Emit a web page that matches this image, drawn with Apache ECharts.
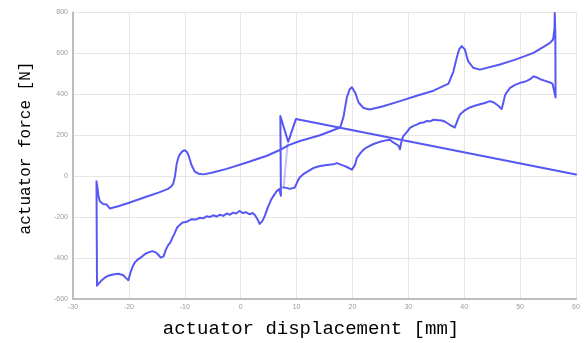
<!DOCTYPE html>
<html>
<head>
<meta charset="utf-8">
<script src="https://cdn.jsdelivr.net/npm/echarts@6/dist/echarts.min.js"></script>
<style>
  html, body { margin: 0; padding: 0; background: #fff; }
  #chart { width: 586px; height: 343px; }
</style>
</head>
<body>
<div id="chart"></div>
<script>
// Axis tick values
const xTicks = [-30, -20, -10, 0, 10, 20, 30, 40, 50, 60];
const yTicks = [-600, -400, -200, 0, 200, 400, 600, 800];

// Start of the record: return line and the zigzag near 7-10 mm
const startDisp  = [60, 9.9, 8.5, 7.1, 7.2];
const startForce = [8, 280, 168, 294, -96];

// Quick faint drop from the zigzag down onto the lower branch
const dropDisp  = [8.4, 7.7];
const dropForce = [160, -52];

// Lower branch, moving left from ~7 mm to the left end
const lowerLeftDisp = [6.9, 6.4, 5.5, 4.9, 4.3, 3.9, 3.4, 3.0, 2.6, 2.2, 1.6, 1.0, 0.4, -0.2, -0.8, -1.4,
  -1.9, -2.5, -3.1, -3.7, -4.3, -4.9, -5.5, -6.1, -6.7, -7.3, -8.0, -8.8, -9.6, -10.4, -10.9, -11.4,
  -11.8, -12.2, -12.6, -13.0, -13.4, -13.8, -14.3, -14.7, -15.2, -15.8, -16.5, -17.1, -17.7, -18.3,
  -18.9, -19.3, -19.7, -20.1, -20.5, -21.0, -21.9, -22.8, -23.7, -24.3, -24.9, -25.4, -25.7];
const lowerLeftForce = [-62, -75, -112, -150, -195, -218, -233, -210, -192, -180, -186, -176, -180, -170, -182, -178,
  -188, -182, -194, -188, -197, -191, -199, -196, -206, -203, -212, -210, -222, -226, -238, -252,
  -278, -300, -325, -338, -360, -392, -398, -385, -372, -366, -372, -380, -394, -405,
  -420, -440, -470, -508, -498, -484, -477, -480, -486, -496, -510, -524, -535];

// Upper branch, moving right from the left end up to the right-end spike
const upperDisp = [-25.8, -25.6, -25.45, -25.2, -24.6, -24.0, -23.4, -22.6, -21.9, -20.1, -18.3, -16.5, -14.7,
  -13.0, -12.4, -12.05, -11.75, -11.45, -11.1, -10.8, -10.4, -10.0, -9.6, -9.3, -8.8, -8.2, -7.5, -6.6,
  -5.0, -2.5, 1.1, 4.7, 7.0, 8.6, 10.6, 14.2, 17.8, 18.4, 19.0, 19.5, 19.9, 20.5, 21.1, 22.0, 23.1, 25.5,
  28.5, 31.5, 34.5, 37.2, 37.6, 38.05, 38.65, 39.1, 39.55, 40.1, 40.7, 41.6, 42.8, 46.4, 49.4, 52.4, 55.3,
  55.9, 56.15, 56.2, 56.3, 56.35];
const upperForce = [-25, -60, -95, -122, -136, -138, -158, -152, -147, -131, -114, -97, -80,
  -62, -50, -35, 0, 60, 95, 110, 122, 127, 118, 100, 55, 22, 12, 9,
  18, 36, 67, 100, 128, 152, 172, 200, 238, 290, 385, 425, 435, 408, 360, 333, 326, 342,
  367, 393, 418, 452, 480, 510, 578, 620, 636, 620, 562, 530, 521, 546, 572, 603, 650,
  668, 720, 798, 700, 385];

// Lower branch, moving left from the right end back to ~7.6 mm
const lowerRightDisp = [55.8, 55.35, 54.5, 53.6, 52.9, 52.4, 51.8, 51.2, 50.6, 50.0, 49.1, 48.2, 47.6, 47.3,
  47.0, 46.7, 46.4, 46.1, 45.3, 44.6, 43.7, 42.8, 41.9, 41.0, 40.1, 39.25, 38.9, 38.65, 38.3, 38.05, 37.6,
  37.2, 36.6, 36.0, 35.4, 34.5, 33.9, 33.3, 32.7, 32.1, 31.5, 30.9, 30.3, 29.7, 29.1, 28.8, 28.5, 28.2,
  27.9, 27.3, 26.7, 25.8, 24.9, 24.0, 23.2, 22.5, 22.0, 21.4, 21.1, 20.8, 20.5, 19.9, 19.6, 19.0, 18.4,
  17.2, 16.6, 15.4, 14.2, 13.0, 12.4, 11.8, 11.2, 10.6, 10.3, 9.7, 8.8, 8.2, 7.6];
const lowerRightForce = [452, 458, 466, 474, 484, 488, 474, 466, 460, 456, 446, 432, 410, 395,
  360, 328, 336, 344, 360, 367, 358, 352, 344, 336, 322, 302, 280, 262, 238, 230, 248,
  255, 266, 272, 274, 276, 268, 270, 262, 260, 252, 246, 236, 214, 196, 175, 132, 150,
  150, 165, 178, 174, 168, 160, 150, 140, 130, 112, 100, 90, 58, 32, 35, 45, 52,
  64, 58, 55, 50, 40, 30, 20, 10, -5, -18, -55, -62, -57, -55];

function pairs(xs, ys) { return xs.map((x, i) => [x, ys[i]]); }

const trace = [].concat(
  pairs(startDisp, startForce),
  pairs(lowerLeftDisp, lowerLeftForce),
  pairs(upperDisp, upperForce),
  pairs(lowerRightDisp, lowerRightForce)
);

const chart = echarts.init(document.getElementById('chart'), null, { renderer: 'canvas' });

const tickLabel = { fontSize: 7, color: '#9a9a9a', fontFamily: 'Liberation Sans' };

chart.setOption({
  backgroundColor: '#ffffff',
  animation: false,
  grid: { left: 73, right: 10, top: 12.5, bottom: 44 },
  xAxis: {
    type: 'value',
    min: xTicks[0],
    max: xTicks[xTicks.length - 1],
    interval: 10,
    axisLine: { show: true, onZero: false, lineStyle: { color: '#bdbdbd', width: 2 } },
    axisTick: { show: false },
    axisLabel: Object.assign({ margin: 5 }, tickLabel),
    splitLine: { show: true, lineStyle: { color: '#e6e6e6', width: 1 } }
  },
  yAxis: {
    type: 'value',
    min: yTicks[0],
    max: yTicks[yTicks.length - 1],
    interval: 200,
    axisLine: { show: true, onZero: false, lineStyle: { color: '#bdbdbd', width: 2 } },
    axisTick: { show: false },
    axisLabel: Object.assign({ margin: 5 }, tickLabel),
    splitLine: { show: true, lineStyle: { color: '#e6e6e6', width: 1 } }
  },
  series: [
    {
      type: 'line',
      data: pairs(dropDisp, dropForce),
      showSymbol: false,
      lineStyle: { color: 'rgba(60,60,240,0.3)', width: 2 }
    },
    {
      type: 'line',
      data: trace,
      showSymbol: false,
      smooth: false,
      clip: true,
      lineStyle: { color: 'rgba(50,50,240,0.82)', width: 2, join: 'round', cap: 'round' }
    }
  ],
  graphic: [
    {
      type: 'text',
      x: 311,
      y: 329,
      style: {
        text: 'actuator displacement [mm]',
        font: '19px "Liberation Mono"',
        fill: '#000000',
        align: 'center',
        verticalAlign: 'middle'
      }
    },
    {
      type: 'text',
      x: 26,
      y: 148,
      rotation: Math.PI / 2,
      style: {
        text: 'actuator force [N]',
        font: '16px "Liberation Mono"',
        fill: '#000000',
        align: 'center',
        verticalAlign: 'middle'
      }
    }
  ]
});
</script>
</body>
</html>
